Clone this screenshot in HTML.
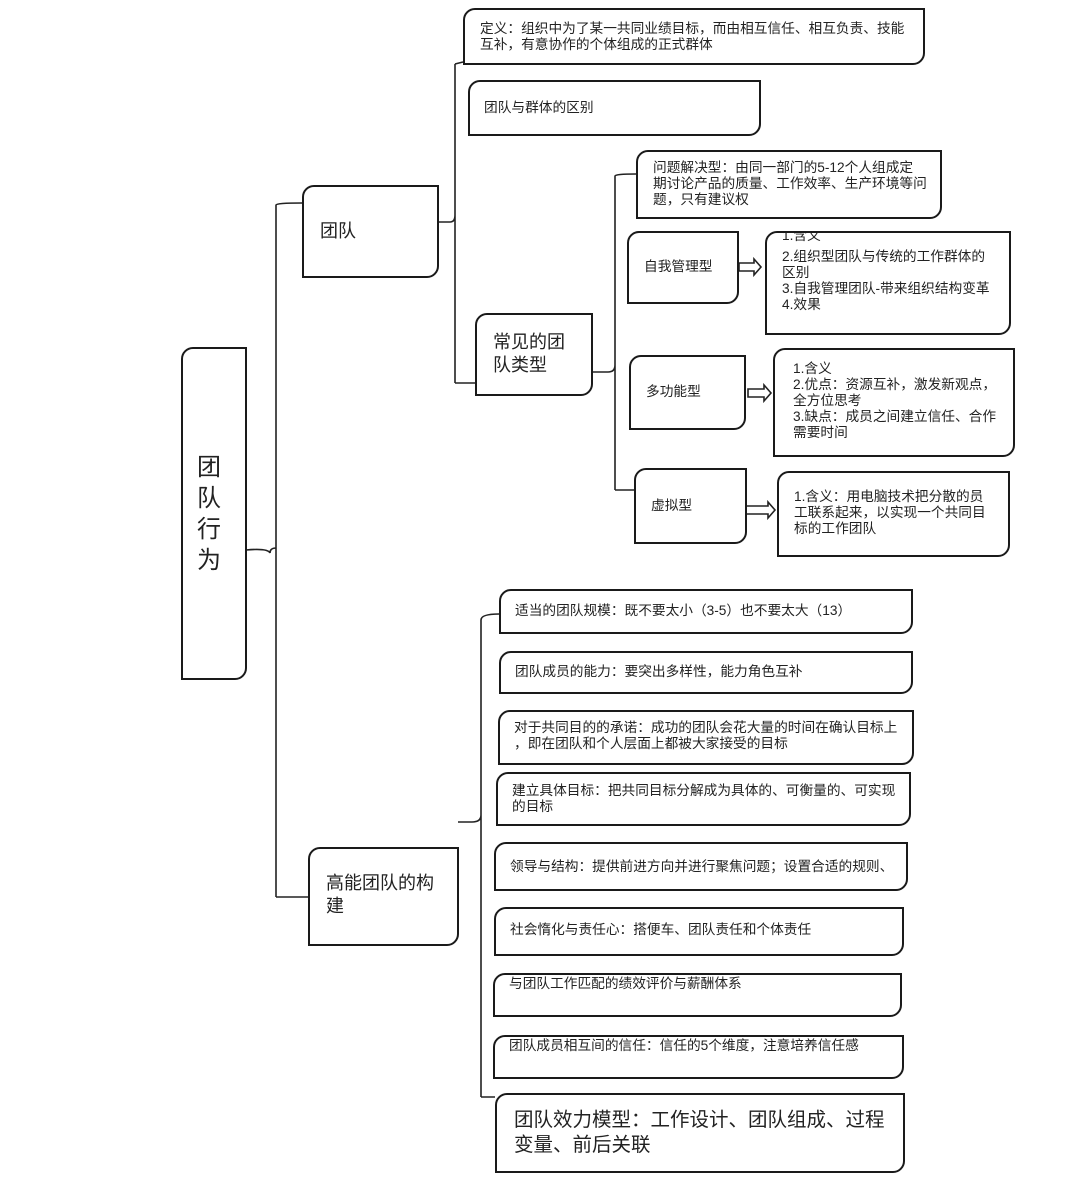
<!DOCTYPE html>
<html><head><meta charset="utf-8"><style>
body{margin:0;width:1080px;height:1183px;background:#fff;position:relative;overflow:hidden;font-family:"Liberation Sans","Noto Sans CJK SC",sans-serif;color:#222}
.b{position:absolute;box-sizing:border-box;border:2px solid #1a1a1a;border-radius:12px 0 12px 0;background:#fff}
.t{position:absolute;font-size:13.7px;line-height:16px;white-space:nowrap}
svg{position:absolute;left:0;top:0}
</style></head><body>
<svg width="1080" height="1183" fill="none" stroke="#222" stroke-width="1.6">
<path d="M246 550 Q268 548 270 553 Q270 548 276 548 M276 205 L276 897 M276 205 Q276 203 302 203 M276 897 L308 897"/>
<path d="M438 222 L450 222 Q455 222 455 215 M455 64 L455 383 M455 64 L463 62 M455 383 L475 383"/>
<path d="M592 372 L608 372 Q615 372 615 365 M615 176 L615 490 M615 176 Q615 174 636 174 M615 490 L634 490"/>
<path d="M458 822 L472 822 Q481 822 481 815 M481 620 L481 1097 M481 620 Q481 614 499 614 M481 1097 L495 1097"/>
<path d="M739 263 H754 V259 L761 267 L754 275 V271 H739 Z"/>
<path d="M748 389 H764 V385 L771 393 L764 401 V397 H748 Z"/>
<path d="M746 506 H768 V502 L775 510 L768 518 V514 H746 Z"/>
</svg>

<div class="b" style="left:181px;top:347px;width:66px;height:333px"></div>
<div class="t" style="left:197px;top:452px;font-size:24px;line-height:31px;white-space:normal;width:26px">团<br>队<br>行<br>为</div>

<div class="b" style="left:302px;top:185px;width:137px;height:93px"></div>
<div class="t" style="left:320px;top:220px;font-size:18px;line-height:22px">团队</div>

<div class="b" style="left:463px;top:8px;width:462px;height:57px"></div>
<div class="t" style="left:480px;top:21px">定义：组织中为了某一共同业绩目标，而由相互信任、相互负责、技能<br>互补，有意协作的个体组成的正式群体</div>

<div class="b" style="left:468px;top:80px;width:293px;height:56px"></div>
<div class="t" style="left:484px;top:100px">团队与群体的区别</div>

<div class="b" style="left:475px;top:313px;width:118px;height:83px"></div>
<div class="t" style="left:493px;top:331px;font-size:18px;line-height:23px">常见的团<br>队类型</div>

<div class="b" style="left:636px;top:150px;width:306px;height:69px"></div>
<div class="t" style="left:653px;top:160px">问题解决型：由同一部门的5-12个人组成定<br>期讨论产品的质量、工作效率、生产环境等问<br>题，只有建议权</div>

<div class="b" style="left:627px;top:231px;width:112px;height:73px"></div>
<div class="t" style="left:644px;top:259px">自我管理型</div>
<div class="b" style="left:765px;top:231px;width:246px;height:104px"></div>
<div class="t" style="left:782px;top:233px;height:12px;overflow:hidden"><span style="position:relative;top:-5px">1.含义</span></div>
<div class="t" style="left:782px;top:249px">2.组织型团队与传统的工作群体的<br>区别<br>3.自我管理团队-带来组织结构变革<br>4.效果</div>

<div class="b" style="left:629px;top:355px;width:117px;height:75px"></div>
<div class="t" style="left:646px;top:384px">多功能型</div>
<div class="b" style="left:773px;top:348px;width:242px;height:109px"></div>
<div class="t" style="left:793px;top:361px">1.含义<br>2.优点：资源互补，激发新观点，<br>全方位思考<br>3.缺点：成员之间建立信任、合作<br>需要时间</div>

<div class="b" style="left:634px;top:468px;width:113px;height:76px"></div>
<div class="t" style="left:651px;top:498px">虚拟型</div>
<div class="b" style="left:777px;top:471px;width:233px;height:86px"></div>
<div class="t" style="left:794px;top:489px">1.含义：用电脑技术把分散的员<br>工联系起来，以实现一个共同目<br>标的工作团队</div>

<div class="b" style="left:308px;top:847px;width:151px;height:99px"></div>
<div class="t" style="left:326px;top:872px;font-size:18px;line-height:23px">高能团队的构<br>建</div>

<div class="b" style="left:499px;top:589px;width:414px;height:45px"></div>
<div class="t" style="left:515px;top:603px">适当的团队规模：既不要太小（3-5）也不要太大（13）</div>
<div class="b" style="left:499px;top:651px;width:414px;height:43px"></div>
<div class="t" style="left:515px;top:664px">团队成员的能力：要突出多样性，能力角色互补</div>
<div class="b" style="left:498px;top:710px;width:416px;height:55px"></div>
<div class="t" style="left:514px;top:720px">对于共同目的的承诺：成功的团队会花大量的时间在确认目标上<br>，即在团队和个人层面上都被大家接受的目标</div>
<div class="b" style="left:496px;top:772px;width:415px;height:54px"></div>
<div class="t" style="left:512px;top:783px">建立具体目标：把共同目标分解成为具体的、可衡量的、可实现<br>的目标</div>
<div class="b" style="left:494px;top:842px;width:414px;height:49px"></div>
<div class="t" style="left:510px;top:859px">领导与结构：提供前进方向并进行聚焦问题；设置合适的规则、</div>
<div class="b" style="left:494px;top:907px;width:410px;height:49px"></div>
<div class="t" style="left:510px;top:922px">社会惰化与责任心：搭便车、团队责任和个体责任</div>
<div class="b" style="left:493px;top:973px;width:409px;height:44px"></div>
<div class="t" style="left:509px;top:976px">与团队工作匹配的绩效评价与薪酬体系</div>
<div class="b" style="left:493px;top:1035px;width:411px;height:44px"></div>
<div class="t" style="left:509px;top:1038px">团队成员相互间的信任：信任的5个维度，注意培养信任感</div>
<div class="b" style="left:495px;top:1093px;width:410px;height:80px"></div>
<div class="t" style="left:514px;top:1108px;font-size:19.5px;line-height:25px">团队效力模型：工作设计、团队组成、过程<br>变量、前后关联</div>
</body></html>
